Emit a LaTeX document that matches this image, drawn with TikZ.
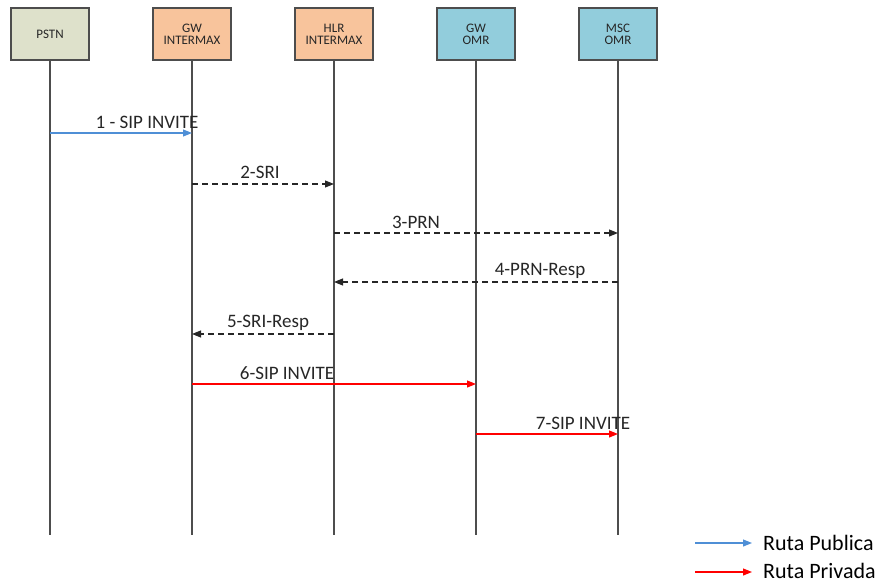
\documentclass[tikz,border=0pt]{standalone}
\usepackage{fontspec}
\setmainfont{Carlito}
\usetikzlibrary{arrows.meta}

\definecolor{pstnfill}{HTML}{DEE1CB}
\definecolor{intfill}{HTML}{F8C49C}
\definecolor{omrfill}{HTML}{92CDDC}
\definecolor{lifegray}{HTML}{4D4D4D}
\definecolor{publue}{HTML}{4F8FD6}

\tikzset{
  entity/.style={draw=lifegray, line width=1.3pt, minimum width=78pt, minimum height=52pt,
    inner sep=1pt, align=center, font=\fontsize{13}{12}\selectfont, text=black!85},
  life/.style={draw=lifegray, line width=1.3pt},
  msg/.style={line width=1.1pt, -{Triangle[length=9pt,width=7pt]}},
  req/.style={msg, dash pattern=on 6pt off 4pt, black!85},
  lbl/.style={font=\fontsize{19}{20}\selectfont, text=black!85, inner sep=0pt},
  legend/.style={font=\fontsize{22}{23}\selectfont, anchor=base west, inner sep=0pt}
}

\begin{document}
\begin{tikzpicture}[x=1pt,y=-1pt]
\useasboundingbox (0,0) rectangle (886,583);

% entities
\node[entity, fill=pstnfill] (pstn) at (50,34) {PSTN};
\node[entity, fill=intfill] (gwint) at (192,34) {GW\\INTERMAX};
\node[entity, fill=intfill] (hlr) at (334,34) {HLR\\INTERMAX};
\node[entity, fill=omrfill] (gwomr) at (476,34) {GW\\OMR};
\node[entity, fill=omrfill] (msc) at (618,34) {MSC\\OMR};

% lifelines
\draw[life] (pstn.south) -- (pstn |- 0,535);
\draw[life] (gwint.south) -- (gwint |- 0,535);
\draw[life] (hlr.south) -- (hlr |- 0,535);
\draw[life] (gwomr.south) -- (gwomr |- 0,535);
\draw[life] (msc.south) -- (msc |- 0,535);

% messages
\draw[msg, publue] (pstn |- 0,133) -- (gwint |- 0,133);
\node[lbl] (l1) at (147,122) {1 - SIP INVITE};
\draw[req] (gwint |- 0,184) -- (hlr |- 0,184);
\node[lbl] (l2) at (260,172) {2-SRI};
\draw[req] (hlr |- 0,233) -- (msc |- 0,233);
\node[lbl] (l3) at (416,222) {3-PRN};
\draw[req] (msc |- 0,282) -- (hlr |- 0,282);
\node[lbl] (l4) at (540,271) {4-PRN-Resp};
\draw[req] (hlr |- 0,334) -- (gwint |- 0,334);
\node[lbl] (l5) at (268,323) {5-SRI-Resp};
\draw[msg, red] (gwint |- 0,384) -- (gwomr |- 0,384);
\node[lbl] (l6) at (287,373) {6-SIP INVITE};
\draw[msg, red] (gwomr |- 0,434) -- (msc |- 0,434);
\node[lbl] (l7) at (583,423) {7-SIP INVITE};

% legend
\coordinate (pubA) at (695,543);
\coordinate (pubB) at (752,543);
\coordinate (priA) at (695,572);
\coordinate (priB) at (752,572);
\draw[msg, publue] (pubA) -- (pubB);
\node[legend] (pub) at (763,550) {Ruta Publica};
\draw[msg, red] (priA) -- (priB);
\node[legend] (pri) at (763,578) {Ruta Privada};
\end{tikzpicture}
\end{document}
